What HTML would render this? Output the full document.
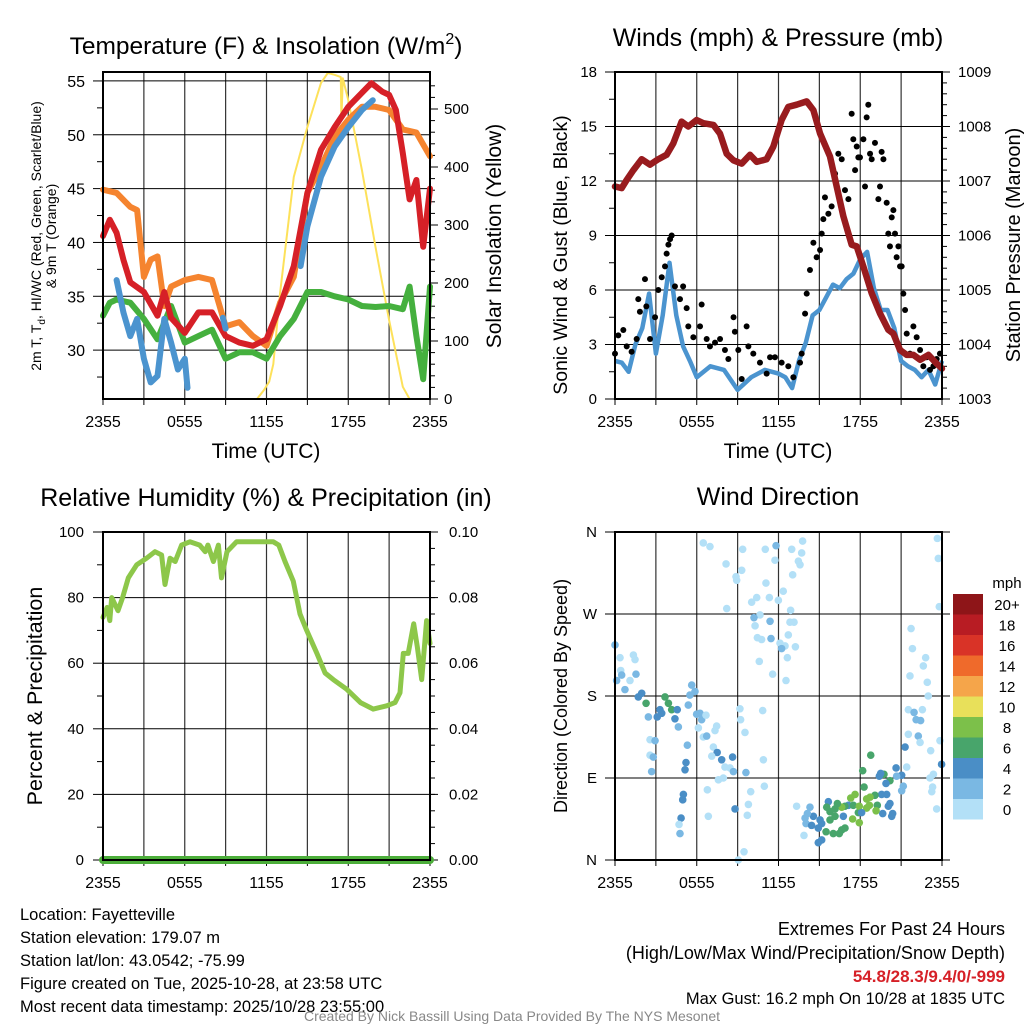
<!DOCTYPE html>
<html><head><meta charset="utf-8">
<style>
html,body{margin:0;padding:0;background:#fff;}
svg{display:block;font-family:"Liberation Sans",sans-serif;}
</style></head>
<body>
<svg id="root" width="1024" height="1024" viewBox="0 0 1024 1024"></svg>
<script>
// ---------- Panel 1: temperature ----------
const tempHours = [0,0.5,1,1.5,2,3,4,4.5,5,6,7,8,9,10,11,12,13,14,15,16,17,18,19,19.7,20.5,21,21.5,22,22.5,23,23.5,24];
const tempValues = [40.6,42.1,40.9,38.4,36.3,35.4,33.2,35.4,33,31.6,33.5,33.5,31.3,30.7,30.4,31,34.1,37.8,44.6,48.6,50.7,52.6,53.9,54.8,54,53.7,52.3,48.3,44,45.8,39.6,45];
const t9Hours = [0,1,2,2.5,3,3.5,4,4.5,5,6,7,8,9,10,11,12,13,14,15,16,17,18,19,20,21,22,23,24];
const t9Values = [44.9,44.6,43.3,43,36.8,38.4,38.7,34.1,35.9,36.5,36.8,36.5,32.2,32.6,31.3,30.4,34.4,36.8,44.6,47,49.8,51.4,52.6,52.6,52.3,50.5,50.2,48];
const wcHours = [1,1.5,2,2.5,3,3.5,4,4.5,5,5.5,6,6.2,null,8.8,9,null,14.5,15,16,17,18,19,19.8];
const wcValues = [36.5,33.5,31.3,32.9,29.2,27,27.6,32.9,30.7,28.2,29.2,26.5,null,33,32,null,37.8,41.5,46.1,48.9,50.7,52.3,53.2];
const dewHours = [0,0.5,1,2,3,4,5,6,7,8,9,10,11,12,13,14,15,16,17,18,19,20,21,22,22.5,23,23.5,24];
const dewValues = [33.2,34.4,34.7,34.4,32.9,31,34.1,30.7,31.3,31.9,29.2,29.8,29.8,29.2,31.3,32.9,35.4,35.4,35,34.7,34.1,34,34.1,33.8,35.9,31.3,27.3,35.9];
const solarHours = [0,11.3,11.8,12.2,12.5,13,14,15,16,16.5,17,17.45,17.5,17.6,18,19,20,21,22,22.5,24];
const solarValues = [0,0,15,30,60,183,383,469,545,562,559,555,481,553,515,395,262,136,21,0,0];
const tempTicks = [30,35,40,45,50,55];
const solarTicks = [0,100,200,300,400,500];
const timeTickLabels = ["2355","0555","1155","1755","2355"];
// ---------- Panel 2: winds ----------
const windHours = [0,0.5,1,1.5,2,2.5,3,3.5,4,4.5,5,5.5,6,7,8,9,10,11,12,12.5,13,13.5,14,14.5,15,15.5,16,16.5,17,17.5,18,18.5,19,19.5,20,20.5,21,21.5,22,22.5,23,23.5,24];
const windValues = [2.1,2,1.5,3,3.9,5.8,2.5,4.6,7.5,4.6,2.9,2.1,1.2,1.8,1.6,0.5,1.2,1.6,1.4,1.2,0.6,2.1,3.1,4.6,4.9,5.6,6.3,6.1,6.6,6.9,7.7,8.1,6.1,4.9,4.9,3.9,2.1,1.8,1.6,1.2,1.6,0.8,2.1];
const gustHours = [0,0.24,0.61,0.86,1.22,1.59,1.71,1.83,2.2,2.3,2.57,2.94,3.18,3.43,3.67,3.79,3.92,4.04,4.16,4.4,4.77,5.0,5.26,5.38,5.75,6.24,6.36,6.73,6.97,7.34,7.71,8.07,8.32,8.7,8.8,9.05,9.3,9.66,9.79,10.15,10.64,11.13,11.38,11.74,12.23,12.72,13.09,13.58,13.7,13.95,14.07,14.31,14.56,14.8,15.05,15.17,15.29,15.41,15.66,15.9,16.15,16.27,16.39,16.64,16.88,17.13,17.37,17.49,17.62,17.74,17.86,17.98,18.23,18.35,18.47,18.59,18.72,18.84,19.08,19.33,19.45,19.57,19.7,19.94,20.06,20.18,20.31,20.43,20.55,20.67,20.8,20.92,21.04,21.16,21.29,21.41,21.65,21.9,22.14,22.39,22.63,22.88,23.12,23.37,23.61,23.85];
const gustValues = [2.5,3.5,3.8,2.9,2.6,3.3,5.5,4.8,6.6,5.1,3.3,4.5,6.0,6.7,7.3,8.0,8.5,8.8,9.0,6.2,5.5,6.2,5.0,4.0,3.4,4.0,5.2,3.3,2.9,3.1,3.3,2.7,2.2,4.5,3.7,2.7,1.1,4.0,2.9,2.5,2.0,1.4,2.3,2.3,2.0,1.8,1.2,2.0,2.5,4.7,5.8,7.1,8.6,7.8,8.2,9.1,9.9,11.1,10.2,10.6,12.4,11.7,13.5,13.2,11.5,11.0,15.7,14.3,12.6,13.9,13.3,13.3,14.3,11.7,15.5,16.2,13.5,13.2,14.1,11.0,11.7,13.6,13.2,10.8,9.1,8.4,10.0,10.4,9.1,7.8,8.4,7.3,7.3,5.8,4.9,3.6,2.5,4.0,3.4,2.7,1.8,2.3,1.6,1.8,2.2,2.5];
const presHours = [0,0.49,0.86,1.35,1.96,2.57,3.18,3.79,4.28,4.89,5.38,5.99,6.48,7.22,7.71,8.2,8.69,9.3,9.91,10.4,11.13,11.62,12.23,12.72,13.33,14.07,14.56,15.05,15.78,16.27,16.76,17.37,17.74,18.23,18.84,19.45,20.06,20.43,20.92,21.41,21.9,22.39,23.0,23.61,24];
const presValues = [1006.9,1006.87,1007.02,1007.2,1007.4,1007.3,1007.4,1007.48,1007.69,1008.09,1008.0,1008.12,1008.06,1008.03,1007.87,1007.5,1007.38,1007.32,1007.48,1007.35,1007.4,1007.63,1008.12,1008.36,1008.4,1008.46,1008.3,1007.87,1007.45,1006.9,1006.35,1005.83,1005.8,1005.43,1004.94,1004.57,1004.27,1004.2,1003.9,1003.81,1003.81,1003.72,1003.81,1003.65,1003.56];
const windTicks = [0,3,6,9,12,15,18];
const presTicks = [1003,1004,1005,1006,1007,1008,1009];
// ---------- Panel 3: RH ----------
const rhHours = [0,0.3,0.5,0.64,1.1,1.44,1.86,2.47,3.2,3.82,4.3,4.55,4.92,5.3,5.77,6.38,7.1,7.5,7.7,8.1,8.47,8.7,9.1,9.8,10.8,11.8,12.5,12.9,13.36,13.97,14.46,14.95,15.7,16.3,16.9,17.9,18.9,19.84,20.82,21.43,21.8,22.04,22.4,22.8,23.07,23.39,23.75,24];
const rhValues = [74,77,73,80,76,80,86,90,92,94,93,84,92,91,96,97,96,94,96,91,96,86,94,97,97,97,97,96,91,85,75,70,63,57,55,52,48,46,47,48,51,63,63,72,65,55,73,66];
const precipHours = [0,24];
const precipValues = [0,0];
const rhTicks = [0,20,40,60,80,100];
const precipTicks = ["0.00","0.02","0.04","0.06","0.08","0.10"];
// ---------- Panel 4: wind direction ----------
const dirHours = [0,0.37,0.42,0.12,0.49,0.73,1.1,1.35,1.47,1.54,1.71,1.96,2.28,2.45,2.57,2.94,3.1,3.3,3.43,3.67,3.92,4.16,4.4,4.57,4.65,2.57,2.81,2.69,5.21,5.14,5.31,5.02,4.97,4.85,4.7,4.77,5.63,5.5,5.87,5.38,5.99,6.24,6.36,6.12,6.68,6.48,6.73,7.46,7.34,7.22,7.5,7.1,7.83,8.07,8.44,8.63,8.69,7.95,7.59,6.78,6.85,8.81,9.05,9.47,9.61,9.17,9.22,9.54,9.96,9.79,9.71,10.84,10.89,10.96,6.48,6.97,8.15,9.37,8.88,9.3,8.93,8.2,10.03,10.4,11.08,11.33,11.99,12.35,10.64,10.2,11.38,10.28,10.45,10.76,11.45,12.11,12.48,12.23,12.65,10.59,11.57,12.55,11.03,11.82,11.74,12.97,13.77,13.7,13.46,13.58,13.04,12.89,12.84,13.14,12.72,13.24,23.66,23.73,23.8,21.73,21.83,22.8,22.63,21.65,22.92,22.99,21.53,21.95,22.56,22.1,22.43,21.53,22.26,22.39,21.29,23.17,23.85,23.97,21.41,23.37,23.12,23.31,23.25,23.61,20.63,21.04,20.67,21.16,21.04,20.18,19.74,19.5,19.4,19.89,19.57,19.94,20.18,20.06,20.38,20.31,19.65,18.77,18.18,18.28,19.08,18.72,18.47,18.67,19.25,19.16,18.47,17.86,17.62,17.3,17.13,17.49,17.93,18.1,17.93,17.44,16.88,16.64,16.32,16.15,15.66,15.54,15.78,15.78,16.15,16.76,16.88,16.64,16.46,16.02,15.49,15.17,15.05,14.56,14.31,14.12,13.95,14.02,14.43,14.92,15.17,14.92,13.87,13.33];
const dirValues = [236,222,208,197,203,187,197,225,220,204,179,183,172,157,132,131,157,165,161,179,172,165,155,165,146,115,113,97,107,99,126,72,66,46,39,29,192,181,185,170,160,161,154,145,159,135,136,147,142,124,118,114,110,102,101,113,97,90,88,77,48,56,0,9,96,166,154,140,75,61,49,164,110,81,348,344,325,341,311,318,307,276,283,288,304,288,285,295,269,266,262,257,244,242,243,238,235,232,222,218,204,197,341,345,329,341,350,337,328,324,313,274,261,261,247,234,353,331,278,254,232,222,213,202,195,180,165,162,165,154,153,138,136,129,124,120,131,105,102,94,90,80,75,56,101,93,92,81,76,87,94,95,92,84,72,72,62,59,51,48,51,115,98,80,71,69,67,60,60,54,57,52,72,68,60,60,59,52,41,45,59,58,62,56,64,58,53,44,48,48,35,33,29,29,31,40,44,48,58,51,46,40,38,35,22,19,27,59];
const dirSpeeds = [3,1,1,3,3,3,1,1,1,3,5,5,7,3,1,3,5,5,5,7,7,7,5,5,3,1,3,3,5,5,3,5,5,5,1,3,3,3,3,3,3,3,3,1,1,1,3,1,1,1,5,1,5,1,1,5,3,1,1,1,1,5,1,1,3,1,1,1,1,1,1,1,1,1,1,1,1,1,1,1,1,1,1,1,1,1,1,1,1,3,3,1,1,1,3,1,1,3,1,1,1,1,1,3,1,1,1,1,1,1,1,1,1,1,1,1,1,1,1,1,1,1,1,1,1,1,1,3,1,3,3,1,3,1,5,1,1,5,1,1,1,1,1,1,5,5,3,3,3,7,7,5,5,5,5,5,5,5,5,5,5,7,7,7,7,9,9,9,7,9,9,7,9,9,5,7,9,5,9,9,7,9,7,7,5,7,7,7,7,5,7,7,7,7,7,5,5,5,3,3,3,3,5,5,5,5,1,1];
const dirTickLabels = ["N","E","S","W","N"];
const speedBinLabels = ["20+","18","16","14","12","10","8","6","4","2","0"];
const speedBinColors = ["#8e1518","#b81c23","#d93327","#ef6a2b","#f5a54a","#e8e05a","#7cc04a","#48a56b","#4a8ec6","#7ab8e3","#b3e0f7"];

const NS = "http://www.w3.org/2000/svg";
const root = document.getElementById('root');
function mk(tag, attrs, parent, text){
  const e = document.createElementNS(NS, tag);
  for (const k in attrs) e.setAttribute(k, attrs[k]);
  if (text !== undefined) e.textContent = text;
  (parent || root).appendChild(e);
  return e;
}
function makeX(x0, x1){ return h => x0 + h*(x1-x0)/24; }
function makeY(y0, y1, v0, v1){ return v => y0 + (v-v0)*(y1-y0)/(v1-v0); }
function pathFrom(hours, vals, xs, ys){
  let d = "", pen = false;
  for (let i=0;i<hours.length;i++){
    if (hours[i]===null || vals[i]===null){ pen=false; continue; }
    d += (pen?"L":"M") + xs(hours[i]).toFixed(1) + "," + ys(vals[i]).toFixed(1);
    pen = true;
  }
  return d;
}
function frame(g, L, R, T, B, hLinesY){
  const xs = makeX(L, R);
  for (let h=3; h<24; h+=3){
    const v = mk('line',{x1:xs(h),x2:xs(h),y1:T,y2:B,stroke:'#333','stroke-width':1.2},g);
    
    
  }
  hLinesY.forEach(y=>{
    const l = mk('line',{x1:L,x2:R,y1:y,y2:y,stroke:'#000','stroke-width':1},g);
    
    
  });
  timeTickLabels.forEach((lab,i)=>{
    const x = xs(i*6);
    const t = mk('text',{x:x,y:B+28,'font-size':16,'text-anchor':'middle'},g,lab);
    
    
  });
  for (let h=0; h<=24; h+=3){
    mk('line',{x1:xs(h),x2:xs(h),y1:B,y2:B+6,stroke:'#000','stroke-width':1},g);
  }
}
function border(g,L,R,T,B){
  const r = mk('rect',{x:L,y:T,width:R-L,height:B-T,fill:'none',stroke:'#000','stroke-width':2},g);
  
  
}
function txt(g, x, y, s, size, opts){
  const a = Object.assign({x:x,y:y,'font-size':size,'text-anchor':'middle'}, opts||{});
  return mk('text', a, g, s);
}

// ===== Panel 1 =====
(function(){
  const L=103,R=430,T=72,B=399;
  const g = mk('g',{});
  
  
  const xs = makeX(L,R), ys = makeY(B,T,25.46,55.83), ysol = makeY(B,T,0,563.8);
  frame(g,L,R,T,B,tempTicks.map(ys));
  tempTicks.forEach(v=>{
    const t = txt(g,L-18,ys(v)+6,String(v),16,{'text-anchor':'end'});
    
    
    mk('line',{x1:L-10,x2:L,y1:ys(v),y2:ys(v),stroke:'#000'},g);
    if (v+2.5<55.8) mk('line',{x1:L-6,x2:L,y1:ys(v+2.5),y2:ys(v+2.5),stroke:'#000'},g);
  });
  mk('line',{x1:L-6,x2:L,y1:ys(27.5),y2:ys(27.5),stroke:'#000'},g);
  solarTicks.forEach(v=>{
    const t = txt(g,R+14,ysol(v)+5,String(v),15,{'text-anchor':'start'});
    
    
    mk('line',{x1:R,x2:R+8,y1:ysol(v),y2:ysol(v),stroke:'#000'},g);
  });
  for (let v=20; v<560; v+=20) mk('line',{x1:R,x2:R+5,y1:ysol(v),y2:ysol(v),stroke:'#000'},g);
  const series = [
    ['solar-line', solarHours, solarValues, ysol, '#fde15a', 2],
    ['dewpoint-line', dewHours, dewValues, ys, '#45b03e', 6],
    ['9m-temperature-line', t9Hours, t9Values, ys, '#f5842f', 6],
    ['temperature-line', tempHours, tempValues, ys, '#d62027', 6],
    ['windchill-line', wcHours, wcValues, ys, '#4b94cf', 6]
  ];
  series.forEach(s=>{
    const p = mk('path',{d:pathFrom(s[1],s[2],xs,s[3]),fill:'none',stroke:s[4],'stroke-width':s[5],'stroke-linejoin':'round','stroke-linecap':'round'},g);
    
    
  });
  border(g,L,R,T,B);
  const tt = mk('text',{x:266,y:54,'font-size':24.5,'text-anchor':'middle'},g);
  
  
  tt.appendChild(document.createTextNode('Temperature (F) & Insolation (W/m'));
  mk('tspan',{dy:-10,'font-size':16},tt,'2');
  mk('tspan',{dy:10},tt,')');
  const yl = mk('text',{transform:'translate(41,236) rotate(-90)','font-size':14,'text-anchor':'middle'},g);
  
  
  yl.appendChild(document.createTextNode('2m T, T'));
  mk('tspan',{dy:4,'font-size':10},yl,'d');
  mk('tspan',{dy:-4},yl,', HI/WC (Red, Green, Scarlet/Blue)');
  const yl2 = txt(g,0,0,'& 9m T (Orange)',14,{transform:'translate(56,236) rotate(-90)'});
  
  
  const yr = txt(g,0,0,'Solar Insolation (Yellow)',21,{transform:'translate(501,236) rotate(-90)'});
  
  
  const xl = txt(g,266,458,'Time (UTC)',21);
  
  
})();

// ===== Panel 2 =====
(function(){
  const L=615,R=942,T=72,B=399;
  const g = mk('g',{});
  
  
  const xs = makeX(L,R), ys = makeY(B,T,0,18), yp = makeY(B,T,1003,1009);
  frame(g,L,R,T,B,windTicks.map(ys));
  windTicks.forEach(v=>{
    const t = txt(g,L-18,ys(v)+5,String(v),15,{'text-anchor':'end'});
    
    
    mk('line',{x1:L-10,x2:L,y1:ys(v),y2:ys(v),stroke:'#000'},g);
    if (v<18) mk('line',{x1:L-6,x2:L,y1:ys(v+1.5),y2:ys(v+1.5),stroke:'#000'},g);
  });
  presTicks.forEach(v=>{
    const t = txt(g,R+16,yp(v)+5,String(v),15,{'text-anchor':'start'});
    
    
    mk('line',{x1:R,x2:R+8,y1:yp(v),y2:yp(v),stroke:'#000'},g);
  });
  for (let v=1003.2; v<1009; v+=0.2) mk('line',{x1:R,x2:R+5,y1:yp(v),y2:yp(v),stroke:'#000'},g);
  const wl = mk('path',{d:pathFrom(windHours,windValues,xs,ys),fill:'none',stroke:'#4b94cf','stroke-width':4.5,'stroke-linejoin':'round'},g);
  
  
  gustHours.forEach((h,i)=>{
    const c = mk('circle',{cx:xs(h),cy:ys(gustValues[i]),r:3,fill:'#000'},g);
    
    
  });
  const pl = mk('path',{d:pathFrom(presHours,presValues,xs,yp),fill:'none',stroke:'#981b1e','stroke-width':6.5,'stroke-linejoin':'round','stroke-linecap':'round'},g);
  
  
  border(g,L,R,T,B);
  const tt = txt(g,778,46,'Winds (mph) & Pressure (mb)',25);
  
  
  const yl = txt(g,0,0,'Sonic Wind & Gust (Blue, Black)',19.5,{transform:'translate(567,255) rotate(-90)'});
  
  
  const yr = txt(g,0,0,'Station Pressure (Maroon)',20,{transform:'translate(1020,245) rotate(-90)'});
  
  
  const xl = txt(g,778,458,'Time (UTC)',21);
  
  
})();

// ===== Panel 3 =====
(function(){
  const L=103,R=430,T=532,B=860;
  const g = mk('g',{});
  
  
  const xs = makeX(L,R), ys = makeY(B,T,0,100), ypr = makeY(B,T,0,0.1);
  frame(g,L,R,T,B,rhTicks.map(ys));
  rhTicks.forEach(v=>{
    const t = txt(g,L-19,ys(v)+5,String(v),15,{'text-anchor':'end'});
    
    
    mk('line',{x1:L-10,x2:L,y1:ys(v),y2:ys(v),stroke:'#000'},g);
    if (v<100) mk('line',{x1:L-6,x2:L,y1:ys(v+10),y2:ys(v+10),stroke:'#000'},g);
  });
  precipTicks.forEach((lab,i)=>{
    const v = parseFloat(lab);
    const t = txt(g,R+19,ypr(v)+5,lab,15,{'text-anchor':'start'});
    
    
    mk('line',{x1:R,x2:R+8,y1:ypr(v),y2:ypr(v),stroke:'#000'},g);
  });
  for (let v=0.005; v<0.1; v+=0.005) mk('line',{x1:R,x2:R+5,y1:ypr(v),y2:ypr(v),stroke:'#000'},g);
  const rl = mk('path',{d:pathFrom(rhHours,rhValues,xs,ys),fill:'none',stroke:'#8dc74a','stroke-width':5,'stroke-linejoin':'round','stroke-linecap':'round'},g);
  
  
  const pr = mk('path',{d:pathFrom(precipHours,precipValues,xs,ypr),fill:'none',stroke:'#4cae3a','stroke-width':8,'stroke-linecap':'round'},g);
  
  
  border(g,L,R,T,B);
  mk('line',{x1:L,x2:R,y1:B,y2:B,stroke:'#000','stroke-width':1.5},g);
  const tt = txt(g,266,506,'Relative Humidity (%) & Precipitation (in)',25);
  
  
  const yl = txt(g,0,0,'Percent & Precipitation',21.5,{transform:'translate(42,696) rotate(-90)'});
  
  
})();

// ===== Panel 4 =====
(function(){
  const L=615,R=942,T=532,B=860;
  const g = mk('g',{});
  
  
  const xs = makeX(L,R), ys = makeY(B,T,0,360);
  frame(g,L,R,T,B,[90,180,270].map(ys));
  dirTickLabels.forEach((lab,i)=>{
    const v = i*90;
    const t = txt(g,L-18,ys(v)+5,lab,15,{'text-anchor':'end'});
    
    
    mk('line',{x1:L-10,x2:L,y1:ys(v),y2:ys(v),stroke:'#000'},g);
    mk('line',{x1:R,x2:R+8,y1:ys(v),y2:ys(v),stroke:'#000'},g);
  });
  function colorFor(s){ let idx = Math.min(10, Math.floor(s/2)); return speedBinColors[10-idx]; }
  dirHours.forEach((h,i)=>{
    const c = mk('circle',{cx:xs(h),cy:ys(dirValues[i]),r:3.8,fill:colorFor(dirSpeeds[i])},g);
    
    
  });
  border(g,L,R,T,B);
  const tt = txt(g,778,505,'Wind Direction',25);
  
  
  const yl = txt(g,0,0,'Direction (Colored By Speed)',18,{transform:'translate(567,696) rotate(-90)'});
  
  
  const cb = mk('g',{},g);
  
  
  const ml = txt(cb,1007,588,'mph',15);
  
  
  speedBinColors.forEach((col,i)=>{
    const y = 594 + i*20.5;
    const r = mk('rect',{x:953,y:y,width:30,height:20.5,fill:col},cb);
    
    
    const t = txt(cb,1007,y+16,speedBinLabels[i],15);
    
    
  });
})();

// ===== Footer =====
(function(){
  const g = mk('g',{});
  
  
  const leftLines = ["Location: Fayetteville","Station elevation: 179.07 m","Station lat/lon: 43.0542; -75.99","Figure created on Tue, 2025-10-28, at 23:58 UTC","Most recent data timestamp: 2025/10/28 23:55:00"];
  leftLines.forEach((s,i)=>{
    const t = txt(g,20,920+i*23,s,16.5,{'text-anchor':'start'});
    
    
  });
  const r1 = txt(g,1005,935,'Extremes For Past 24 Hours',18,{'text-anchor':'end'});
  
  
  const r2 = txt(g,1005,959,'(High/Low/Max Wind/Precipitation/Snow Depth)',18,{'text-anchor':'end'});
  
  
  const r3 = txt(g,1005,982,'54.8/28.3/9.4/0/-999',17,{'text-anchor':'end',fill:'#d62027','font-weight':'bold'});
  
  
  const r4 = txt(g,1005,1004,'Max Gust: 16.2 mph On 10/28 at 1835 UTC',16.5,{'text-anchor':'end'});
  
  
  const cr = txt(g,512,1021,'Created By Nick Bassill Using Data Provided By The NYS Mesonet',14,{fill:'#888'});
  
  
})();
</script>
</body></html>
